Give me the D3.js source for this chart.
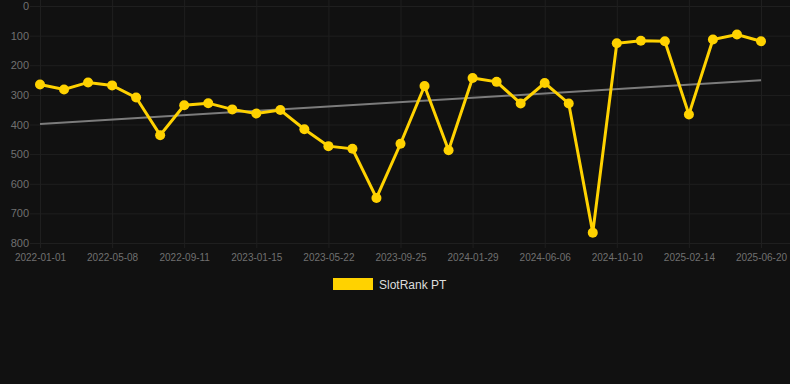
<!DOCTYPE html>
<html>
<head>
<meta charset="utf-8">
<script src="https://cdn.jsdelivr.net/npm/d3@7"></script>
<style>
  html, body { margin: 0; padding: 0; background: #111111; }
  svg { display: block; font-family: Arial, "Liberation Sans", sans-serif; }
</style>
</head>
<body>
<svg id="chart" width="790" height="384"></svg>
<script>
// categories (every third one is labelled on the axis)
const dates = [
  "2022-01-01", "2022-02-12", "2022-03-26", "2022-05-08", "2022-06-19", "2022-07-31",
  "2022-09-11", "2022-10-23", "2022-12-04", "2023-01-15", "2023-02-26", "2023-04-09",
  "2023-05-22", "2023-07-03", "2023-08-14", "2023-09-25", "2023-11-06", "2023-12-18",
  "2024-01-29", "2024-03-11", "2024-04-23", "2024-06-06", "2024-07-18", "2024-08-29",
  "2024-10-10", "2024-11-21", "2025-01-02", "2025-02-14", "2025-03-28", "2025-05-09",
  "2025-06-20"
];
const rankPT = [
  265, 282, 258, 268, 309, 436, 335, 328, 349, 363, 351, 416,
  473, 482, 648, 465, 270, 487, 243, 256, 329, 260, 329, 765,
  126, 117, 119, 366, 113, 96, 119
];
const trendEnds = [398, 251];
const yTicks = [0, 100, 200, 300, 400, 500, 600, 700, 800];
const seriesName = "SlotRank PT";

const svg = d3.select("#chart");
const margin = { top: 6, right: 29, bottom: 141, left: 40 };
const width = 790 - margin.left - margin.right, height = 384 - margin.top - margin.bottom;
const g = svg.append("g").attr("transform", `translate(${margin.left},${margin.top})`);

const x = d3.scalePoint().domain(dates).range([0, width]);
const y = d3.scaleLinear().domain([0, 800]).range([0, height]);
const labelled = dates.filter((d, i) => i % 3 === 0);

// grid
g.append("g").attr("class", "gridlines").attr("transform", "translate(-10,0)")
  .call(d3.axisLeft(y).tickValues(yTicks).tickSize(-(width + 39)).tickFormat("").tickSizeOuter(0))
  .call(s => s.select(".domain").remove());
g.append("g").attr("class", "gridlines").attr("transform", `translate(0,${-margin.top})`)
  .call(d3.axisBottom(x).tickValues(labelled).tickSize(height + margin.top + 5).tickFormat("").tickSizeOuter(0))
  .call(s => s.select(".domain").remove());
g.selectAll(".gridlines line").style("stroke", "#1f1f1f").style("stroke-width", 1);

// axes labels
g.append("g")
  .call(d3.axisLeft(y).tickValues(yTicks).tickSize(0).tickPadding(11))
  .call(s => s.select(".domain").remove())
  .selectAll("text").style("fill", "#707070").style("font-size", "11px");
g.append("g").attr("transform", `translate(0,${height})`)
  .call(d3.axisBottom(x).tickValues(labelled).tickSize(0).tickPadding(11))
  .call(s => s.select(".domain").remove())
  .selectAll("text").style("fill", "#707070").style("font-size", "10px");

// trend line
g.append("line")
  .attr("x1", x(dates[0])).attr("y1", y(trendEnds[0]))
  .attr("x2", x(dates[dates.length - 1])).attr("y2", y(trendEnds[1]))
  .attr("stroke", "#7c7c7c").attr("stroke-width", 2);

// series
const line = d3.line().x((d, i) => x(dates[i])).y(d => y(d));
g.append("path").datum(rankPT).attr("d", line)
  .attr("fill", "none").attr("stroke", "#ffd200").attr("stroke-width", 3).attr("stroke-linejoin", "miter");
g.selectAll(".dot").data(rankPT).enter().append("circle")
  .attr("class", "dot")
  .attr("cx", (d, i) => x(dates[i])).attr("cy", d => y(d))
  .attr("r", 5).attr("fill", "#ffd200");

// legend
const legend = svg.append("g").attr("transform", "translate(333,278)");
legend.append("rect").attr("width", 40).attr("height", 12).attr("fill", "#ffd200");
legend.append("text").attr("x", 46).attr("y", 10.5).text(seriesName)
  .style("fill", "#dddddd").style("font-size", "12px");
</script>
</body>
</html>
